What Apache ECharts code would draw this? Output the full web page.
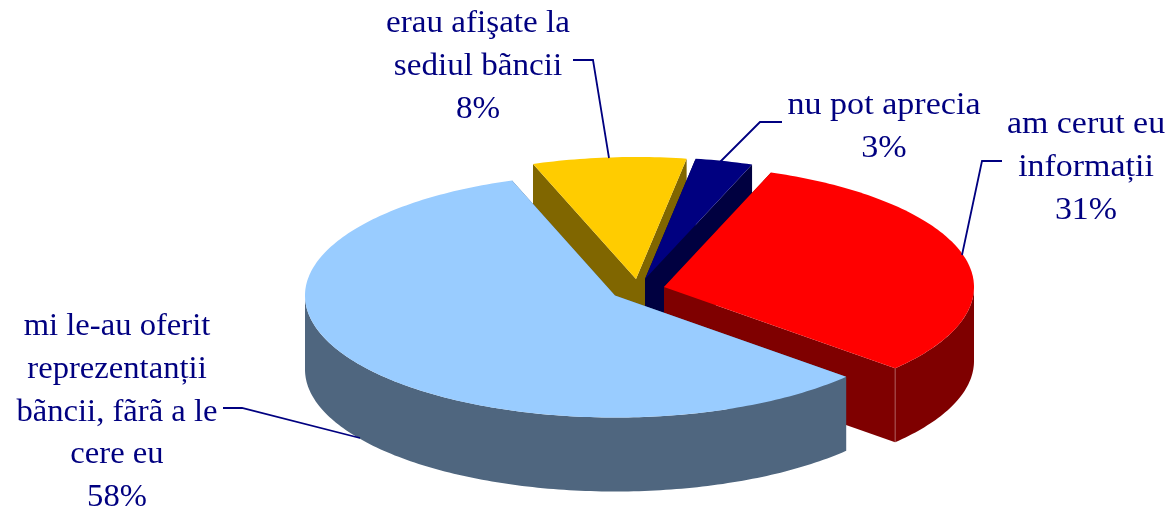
<!DOCTYPE html>
<html>
<head>
<meta charset="utf-8">
<style>html,body{margin:0;padding:0;background:#fff}#c{width:1169px;height:512px}</style>
<script src="https://cdn.jsdelivr.net/npm/echarts@6/dist/echarts.min.js"></script>
</head>
<body>
<div id="c"></div>
<script>
// --- data (in drawing order, back to front) ---
const categories = [
  'erau afişate la\nsediul bãncii',
  'nu pot aprecia',
  'am cerut eu\ninformații',
  'mi le-au oferit\nreprezentanții\nbãncii, fãrã a le\ncere eu'
];
const values = [8, 3, 31, 58];

// --- styles ---
const topColors  = ['#FFCC00', '#000080', '#FF0000', '#99CCFF'];
const sideColors = ['#806600', '#000040', '#7F0000', '#4F667F'];
const textColor = '#000080';

// --- layout (projection of the tilted pie) ---
const startAngle = 340.6;
const radiusX = 310, radiusY = 122, depth = 74;
const apexes = [[636, 279], [645, 279], [664, 287], [615, 295.5]];
const labelCenters = [[478, 8], [884, 90], [1086, 109], [117, 311]];
const stretchX = [1.035, 1.065, 1.06, 1.02];
const leaders = [
  [[573, 60], [593, 60], [609, 158]],
  [[782, 122], [760, 122], [720, 162]],
  [[1002, 161], [982, 161], [962, 255]],
  [[223, 408], [242, 408], [360, 438]]
];
const total = values.reduce((a, b) => a + b, 0);
const fontSize = 32, lineGap = 42.6;

function pt(c, deg, dy) {
  const a = deg * Math.PI / 180;
  return [c[0] + radiusX * Math.sin(a), c[1] - radiusY * Math.cos(a) + (dy || 0)];
}
function arc(c, a0, a1, dy) {
  const out = [], n = Math.max(2, Math.ceil(Math.abs(a1 - a0)));
  for (let i = 0; i <= n; i++) out.push(pt(c, a0 + (a1 - a0) * i / n, dy));
  return out;
}

function renderSlice(params, api) {
  const i = api.value(0), v = api.value(1);
  let before = 0;
  for (let k = 0; k < i; k++) before += values[k];
  const a0 = startAngle + before / total * 360;
  const a1 = a0 + v / total * 360;
  const c = apexes[i];
  const side = { fill: sideColors[i] };
  const children = [];
  const wall = (deg) => {
    const p = pt(c, deg);
    children.push({ type: 'polygon', shape: { points: [c, p, [p[0], p[1] + depth], [c[0], c[1] + depth]] }, style: side });
  };
  wall(a0); wall(a1);
  // outer rim: only the part facing the viewer (90..270 degrees, one turn on)
  [0, 360].forEach((turn) => {
    const r0 = Math.max(a0, 90 + turn), r1 = Math.min(a1, 270 + turn);
    if (r1 > r0) {
      const upper = arc(c, r0, r1, 0), lower = arc(c, r1, r0, depth);
      children.push({ type: 'polygon', shape: { points: upper.concat(lower) }, style: side });
    }
  });
  children.push({ type: 'polygon', shape: { points: [c].concat(arc(c, a0, a1, 0)) }, style: { fill: topColors[i] } });
  if (i === 2) {
    const e = pt(c, a1);
    children.push({ type: 'line', shape: { x1: e[0], y1: e[1], x2: e[0], y2: e[1] + depth }, style: { stroke: 'rgba(255,255,255,0.4)', lineWidth: 0.8 } });
  }
  return { type: 'group', children };
}

function renderLabel(params, api) {
  const i = api.value(0), v = api.value(1);
  const lines = categories[i].split('\n').concat([v + '%']);
  const children = [{ type: 'polyline', shape: { points: leaders[i] }, style: { stroke: textColor, lineWidth: 1.8, fill: 'none' } }];
  lines.forEach((line, k) => {
    children.push({
      type: 'text', x: labelCenters[i][0], y: labelCenters[i][1] + k * lineGap, scaleX: stretchX[i],
      style: { text: line, fill: textColor, font: fontSize + 'px "Liberation Serif"', textAlign: 'center', textVerticalAlign: 'top' }
    });
  });
  return { type: 'group', children };
}

const seriesData = values.map((v, i) => [i, v]);
const chart = echarts.init(document.getElementById('c'), null, { renderer: 'canvas' });
chart.setOption({
  animation: false,
  backgroundColor: '#ffffff',
  series: [
    { type: 'custom', coordinateSystem: 'none', renderItem: renderSlice, data: seriesData, silent: true, z: 1 },
    { type: 'custom', coordinateSystem: 'none', renderItem: renderLabel, data: seriesData, silent: true, z: 2 }
  ]
});
</script>
</body>
</html>
